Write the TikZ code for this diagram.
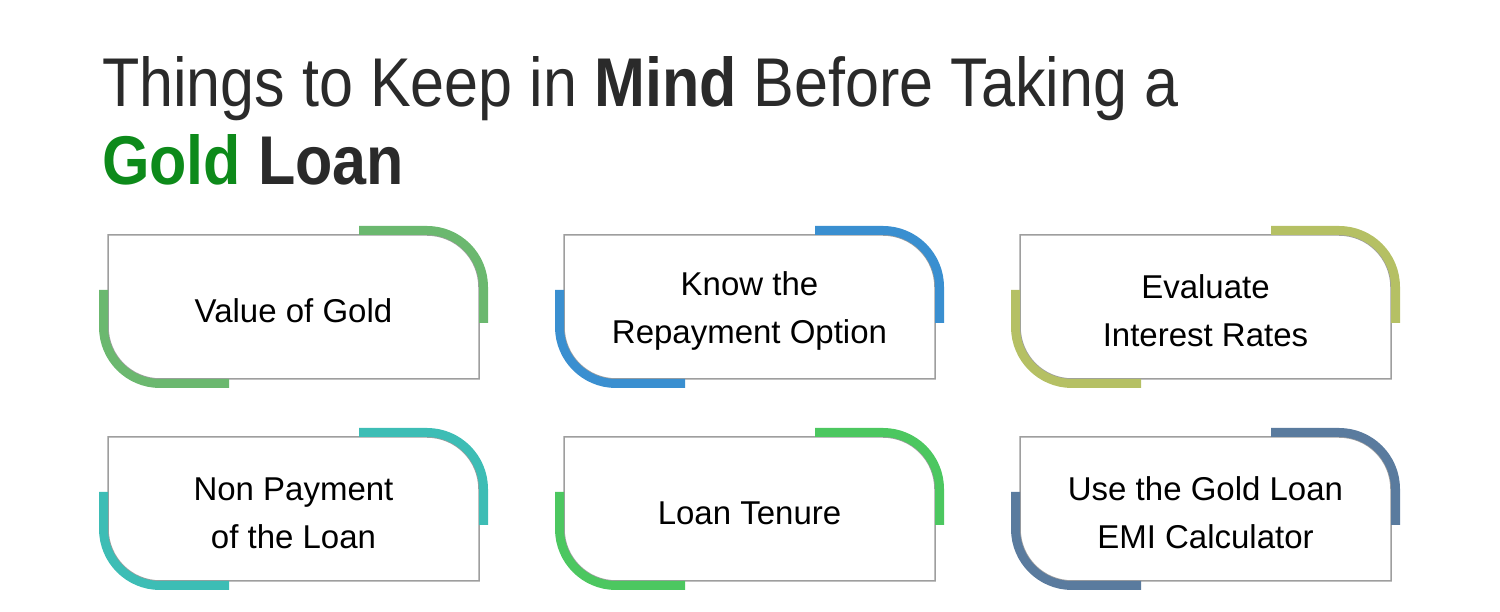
\documentclass[tikz,border=0pt]{standalone}
\usepackage{fontspec}
\setmainfont{Liberation Sans}
\definecolor{cA}{HTML}{6BB86F}
\definecolor{cB}{HTML}{3A8FD0}
\definecolor{cC}{HTML}{B5C064}
\definecolor{cD}{HTML}{3DBDB5}
\definecolor{cE}{HTML}{4CC760}
\definecolor{cF}{HTML}{5A7B9E}
\definecolor{gold}{HTML}{0D8A1A}
\definecolor{ink}{HTML}{2A2A2A}
\newcommand\cardbox[5]{%
\begin{scope}[shift={(#1,612-#2)}]
\draw[boxline] (0,0) -- (319,0) arc[start angle=90,end angle=0,radius=52] -- (371,-144) -- (52,-144) arc[start angle=270,end angle=180,radius=52] -- cycle;
\draw[band=#3] (251,4.5) -- (319,4.5) arc[start angle=90,end angle=0,radius=56.5] -- (375.5,-88);
\draw[band=#3] (121,-148.5) -- (52,-148.5) arc[start angle=270,end angle=180,radius=56.5] -- (-4.5,-55);
\node[cardtext] (#4) at (185.5,-76) {#5};
\end{scope}}
\begin{document}
\begin{tikzpicture}[x=1pt,y=1pt,
  boxline/.style={draw=black!38,line width=1.5pt,fill=white},
  band/.style={draw=#1,line width=9pt},
  cardtext/.style={align=center,font=\fontsize{33}{48}\selectfont,text=black,inner sep=0pt}]
\useasboundingbox (0,0) rectangle (1500,612);
\node[anchor=base west,inner sep=0pt,text=ink,xscale=0.885,font=\fontsize{69}{80}\selectfont] (t1) at (102,612-107) {Things to Keep in \textbf{Mind} Before Taking a};
\node[anchor=base west,inner sep=0pt,text=ink,xscale=0.885,font=\fontsize{69}{80}\selectfont] (t2) at (102,612-185) {\textbf{\textcolor{gold}{Gold} Loan}};
\cardbox{108}{235}{cA}{n1}{Value of Gold}
\cardbox{564}{235}{cB}{n2}{Know the\\Repayment Option}
\cardbox{1020}{235}{cC}{n3}{Evaluate\\Interest Rates}
\cardbox{108}{437}{cD}{n4}{Non Payment\\of the Loan}
\cardbox{564}{437}{cE}{n5}{Loan Tenure}
\cardbox{1020}{437}{cF}{n6}{Use the Gold Loan\\EMI Calculator}
\end{tikzpicture}
\end{document}
